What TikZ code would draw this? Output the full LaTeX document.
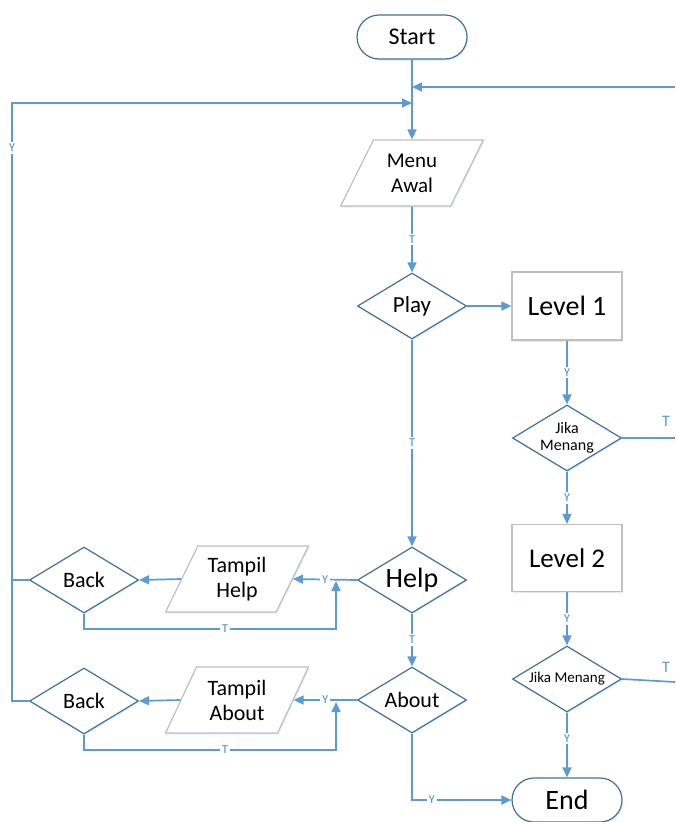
\documentclass[tikz,border=0pt]{standalone}
\usepackage{fontspec}
\setmainfont{Carlito}
\usetikzlibrary{arrows.meta,shapes.geometric,shadows}

\definecolor{lineblue}{HTML}{5B9BD5}
\definecolor{edgeblue}{HTML}{41719C}
\definecolor{boxgray}{HTML}{BFBFBF}

\newcommand\fsz[2]{\fontsize{#1}{#2}\selectfont}

\tikzset{
  softshadow/.style={drop shadow={shadow xshift=1pt, shadow yshift=-1.5pt, fill=lineblue, opacity=0.18}},
  flow/.style={line width=1.7pt, draw=lineblue, -{Triangle[length=10pt,width=9pt]}},
  plain/.style={line width=1.7pt, draw=lineblue},
  terminal/.style={rectangle, rounded corners=22pt, draw=edgeblue, line width=1.2pt,
    minimum width=110pt, minimum height=44pt, fill=white, softshadow},
  decision/.style={diamond, draw=edgeblue, line width=1.2pt, minimum width=109pt,
    minimum height=66pt, inner sep=0pt, shape aspect=1.6, fill=white, align=center, softshadow},
  io/.style={trapezium, trapezium left angle=61, trapezium right angle=119,
    trapezium stretches=true, draw=boxgray, line width=1.2pt, minimum width=143pt,
    minimum height=66pt, inner sep=0pt, fill=white, align=center, softshadow},
  process/.style={rectangle, draw=boxgray, line width=1.2pt, minimum width=110pt,
    minimum height=68pt, fill=white, softshadow},
  tag/.style={fill=white, inner sep=2pt, text=lineblue!85!black, font=\fsz{12}{13}},
  sidetag/.style={inner sep=0pt, text=lineblue, font=\fsz{16}{18}},
}

\begin{document}
\begin{tikzpicture}[x=1pt, y=-1pt]
\useasboundingbox (0,0) rectangle (675,822);

% main column
\node[terminal, font=\fsz{24}{28}] (start) at (412,37) {Start};
\node[io, font=\fsz{21}{25}] (menu) at (412,173) {Menu\\Awal};
\node[decision, font=\fsz{23}{27}] (play) at (412,306) {Play};
\node[decision, font=\fsz{28}{31}] (help) at (412,580) {Help};
\node[decision, font=\fsz{22}{25}] (about) at (412,700) {About};

% help and about branches
\node[io, font=\fsz{22}{25}] (thelp) at (237,579) {Tampil\\Help};
\node[decision, font=\fsz{22}{25}] (back1) at (84,580) {Back};
\node[io, font=\fsz{22}{25}] (tabout) at (237,700) {Tampil\\About};
\node[decision, font=\fsz{22}{25}] (back2) at (84,701) {Back};

% game levels
\node[process, font=\fsz{28}{31}] (lvl1) at (567,306) {Level 1};
\node[decision, font=\fsz{16}{17}] (win1) at (567,438) {Jika\\Menang};
\node[process, minimum height=67pt, font=\fsz{27}{31}] (lvl2) at (567,558) {Level 2};
\node[decision, font=\fsz{15}{17}] (win2) at (567,679) {Jika Menang};
\node[terminal, font=\fsz{28}{31}] (end) at (567,800) {End};

% junctions and off-page ends
\coordinate (mergeR) at (412,87);
\coordinate (mergeL) at (412,103);
\coordinate (rightTop) at (675,87);
\coordinate (rightMid) at (675,438);
\coordinate (rightLow) at (675,682);
\coordinate (leftTop) at (12,103);
\coordinate (loop1) at (336,629);
\coordinate (join1) at (336,581);
\coordinate (loop2) at (336,750);
\coordinate (join2) at (336,702);

% connectors of the main column
\draw[flow] (start) -- (menu);
\draw[flow] (rightTop) -- (mergeR);
\draw[flow] (back2.west) -| (leftTop) -- (mergeL);
\node[tag] (railY) at (12,148) {Y};
\draw[plain] (back1.west) -- (back1.west -| leftTop);
\draw[flow] (menu) -- (play) node[tag, midway] {T};
\draw[flow] (play) -- (help) node[tag, midway] {T};
\draw[flow] (help) -- (about) node[tag, midway] {T};
\draw[flow] (about.south) |- (end.west) node[tag, pos=0.6] {Y};

% help branch
\draw[flow] (help.west) -- (thelp.east) node[tag, midway] {Y};
\draw[flow] (thelp.west) -- (back1.east);
\draw[flow] (back1.south) |- (loop1) node[tag, pos=0.78] {T} -- (join1);

% about branch
\draw[flow] (about.west) -- (tabout.east) node[tag, midway] {Y};
\draw[flow] (tabout.west) -- (back2.east);
\draw[flow] (back2.south) |- (loop2) node[tag, pos=0.78] {T} -- (join2);

% level branch
\draw[flow] (play.east) -- (lvl1.west);
\draw[flow] (lvl1) -- (win1) node[tag, midway] {Y};
\draw[flow] (win1) -- (lvl2) node[tag, midway] {Y};
\draw[flow] (lvl2) -- (win2) node[tag, midway] {Y};
\draw[flow] (win2) -- (end) node[tag, pos=0.4] {Y};
\draw[plain] (win1.east) -- (rightMid);
\draw[plain] (win2.east) -- (rightLow);
\node[sidetag] (t1) at (666,421) {T};
\node[sidetag] (t2) at (666,667) {T};
\end{tikzpicture}
\end{document}
